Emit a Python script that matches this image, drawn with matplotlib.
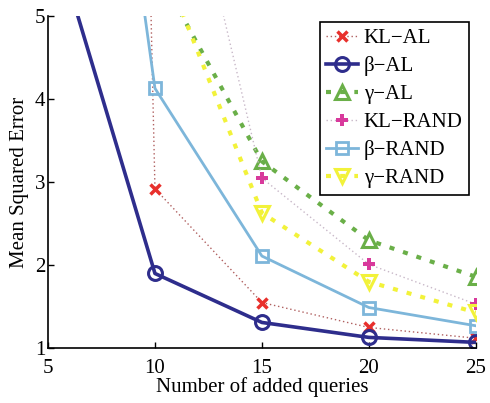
import matplotlib
matplotlib.use('Agg')
import matplotlib.pyplot as plt

plt.rcParams['font.family'] = ['Liberation Serif', 'DejaVu Serif']
plt.rcParams['mathtext.fontset'] = 'stix'

# number of added queries
queries = [5, 10, 15, 20, 25]

# mean squared error (first points run off the top)
kl_al = [60.0, 2.92, 1.55, 1.25, 1.12]
beta_al = [6.2, 1.90, 1.31, 1.13, 1.07]
gamma_al = [8.0, 5.6, 3.25, 2.30, 1.86]
kl_rand = [15.0, 8.5, 3.05, 2.01, 1.53]
beta_rand = [13.4, 4.13, 2.11, 1.49, 1.27]
gamma_rand = [8.5, 5.87, 2.63, 1.80, 1.43]

labels = ['KL\u2212AL', '\u03b2\u2212AL', '\u03b3\u2212AL',
          'KL\u2212RAND', '\u03b2\u2212RAND', '\u03b3\u2212RAND']

fig = plt.figure(figsize=(4.9, 4.03), dpi=100)
ax = fig.add_axes([0.098, 0.136, 0.873, 0.824])

# KL-AL : faint dotted line, red crosses
ax.plot(queries, kl_al, color='#b06060', linestyle=(0, (1, 2)), linewidth=1.0,
        marker='x', markersize=7, markeredgewidth=2.5, markeredgecolor='#e8302c',
        label=labels[0])
# beta-AL : thick navy line with circles
ax.plot(queries, beta_al, color='#2e2d8c', linestyle='-', linewidth=2.6,
        marker='o', markersize=10, markerfacecolor='none', markeredgewidth=2.2,
        label=labels[1])
# gamma-AL : green dashed with triangles
ax.plot(queries, gamma_al, color='#6aaf48', linestyle=(0, (1.2, 2.2)), linewidth=3.0,
        marker='^', markersize=10, markerfacecolor='none', markeredgewidth=2.2,
        label=labels[2])
# KL-RAND : faint dotted line, magenta pluses
ax.plot(queries, kl_rand, color='#c8b8c8', linestyle=(0, (1, 2)), linewidth=1.0,
        marker='P', markersize=8, markeredgewidth=0, markerfacecolor='#d83a9c',
        label=labels[3])
# beta-RAND : light blue line with squares
ax.plot(queries, beta_rand, color='#7db6da', linestyle='-', linewidth=2.0,
        marker='s', markersize=9, markerfacecolor='none', markeredgewidth=2.0,
        label=labels[4])
# gamma-RAND : yellow dotted with down triangles
ax.plot(queries, gamma_rand, color='#f2f23a', linestyle=(0, (1.2, 2.2)), linewidth=3.0,
        marker='v', markersize=10, markerfacecolor='none', markeredgewidth=2.2,
        label=labels[5])

ax.set_xlim(5, 25)
ax.set_ylim(1, 5)
ax.set_xticks([5, 10, 15, 20, 25])
ax.set_yticks([1, 2, 3, 4, 5])
ax.tick_params(direction='in', length=4, width=1, labelsize=15)
ax.tick_params(axis='x', pad=8)
ax.tick_params(axis='y', pad=2)
ax.spines['top'].set_visible(False)
ax.spines['right'].set_visible(False)
ax.spines['left'].set_linewidth(1.2)
ax.spines['bottom'].set_linewidth(1.2)

ax.set_xlabel('Number of added queries', fontsize=15, labelpad=-1)
ax.set_ylabel('Mean Squared Error', fontsize=15, labelpad=4)

leg = ax.legend(loc='upper right', bbox_to_anchor=(0.984, 0.982), fontsize=15,
                frameon=True, fancybox=False, edgecolor='black', framealpha=1,
                handlelength=1.5, handletextpad=0.3, borderpad=0.3,
                labelspacing=0.4, borderaxespad=0.0)
leg.get_frame().set_linewidth(1.2)

fig.savefig('out.png', dpi=100)
